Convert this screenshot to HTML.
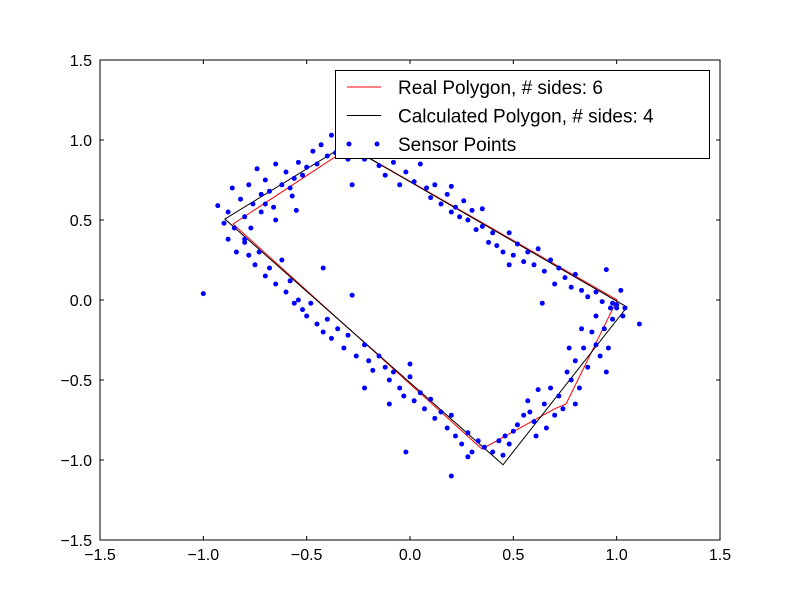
<!DOCTYPE html>
<html><head><meta charset="utf-8"><style>
body{margin:0;background:#fff;}
svg text{font-family:"Liberation Sans","DejaVu Sans",sans-serif;}
</style></head><body>
<svg id="chart" width="800" height="600">
<rect width="800" height="600" fill="#fff"/>
<g id="plot"></g>
</svg>
<script>
const xTicks=[-1.5,-1.0,-0.5,0.0,0.5,1.0,1.5];
const yTicks=[-1.5,-1.0,-0.5,0.0,0.5,1.0,1.5];
const realPolygon=[[-0.856,0.475],[-0.29,0.956],[1.002,0.0],[0.755,-0.65],[0.70,-0.68],[0.348,-0.931]];
const calcPolygon=[[-0.896,0.506],[-0.31,0.97],[1.05,-0.044],[0.45,-1.03]];
const sensorPoints=[[-0.93,0.59],[-0.9,0.48],[-0.88,0.55],[-0.86,0.7],[-0.85,0.45],[-0.82,0.63],[-0.8,0.52],[-0.78,0.72],[-0.76,0.6],[-0.74,0.82],[-0.72,0.66],[-0.7,0.75],[-0.68,0.68],[-0.66,0.58],[-0.65,0.85],[-0.62,0.72],[-0.6,0.8],[-0.58,0.7],[-0.56,0.76],[-0.54,0.86],[-0.52,0.78],[-0.5,0.83],[-0.47,0.93],[-0.45,0.85],[-0.43,0.97],[-0.4,0.9],[-0.38,1.03],[-0.36,0.92],[-0.33,0.98],[-0.3,0.88],[-0.28,0.72],[-0.65,0.5],[-0.7,0.6],[-0.57,0.65],[-0.77,0.45],[-0.8,0.38],[-0.55,0.56],[-0.72,0.55],
[-0.22,0.88],[-0.18,0.92],[-0.15,0.84],[-0.12,0.78],[-0.08,0.86],[-0.05,0.72],[-0.02,0.8],[0.02,0.74],[0.05,0.85],[0.08,0.7],[0.1,0.64],[0.12,0.72],[0.15,0.6],[0.18,0.66],[0.2,0.55],[0.22,0.58],[0.24,0.52],[0.26,0.62],[0.28,0.5],[0.3,0.56],[0.32,0.44],[0.35,0.46],[0.38,0.36],[0.4,0.42],[0.42,0.34],[0.45,0.3],[0.48,0.42],[0.5,0.28],[0.52,0.35],[0.55,0.24],[0.57,0.3],[0.6,0.22],[0.62,0.32],[0.65,0.18],[0.68,0.25],[0.7,0.1],[0.72,0.2],[0.75,0.14],[0.78,0.08],[0.8,0.16],[0.83,0.06],[0.86,0.02],[0.9,0.05],[0.93,-0.01],[0.95,0.19],[0.98,-0.02],[1.0,-0.03],[1.02,0.06],[1.04,-0.05],[0.64,-0.02],[0.48,0.22],[0.2,0.71],[0.35,0.57],
[-0.88,0.38],[-0.84,0.3],[-0.8,0.36],[-0.78,0.28],[-0.75,0.22],[-0.73,0.3],[-0.7,0.15],[-0.68,0.2],[-0.65,0.1],[-0.62,0.25],[-0.6,0.05],[-0.58,0.12],[-0.56,-0.02],[-0.54,0.0],[-0.52,-0.06],[-0.5,-0.1],[-0.48,-0.02],[-0.45,-0.15],[-0.42,0.2],[-0.42,-0.2],[-0.4,-0.12],[-0.38,-0.24],[-0.35,-0.18],[-0.32,-0.3],[-0.3,-0.22],[-0.28,0.03],[-0.26,-0.35],[-0.22,-0.28],[-0.2,-0.38],[-0.18,-0.44],[-0.15,-0.35],[-0.12,-0.42],[-0.1,-0.5],[-0.08,-0.45],[-0.05,-0.55],[-0.03,-0.6],[0.0,-0.48],[0.02,-0.63],[0.05,-0.58],[0.07,-0.68],[0.1,-0.62],[0.12,-0.74],[0.15,-0.7],[0.18,-0.8],[0.2,-0.72],[0.22,-0.85],[0.25,-0.9],[0.28,-0.83],[0.3,-0.95],[0.33,-0.88],[0.36,-0.92],[-0.02,-0.95],[0.2,-1.1],[-0.22,-0.55],[-1.0,0.04],[-0.1,-0.65],[0.0,-0.4],[0.28,-0.98],
[0.4,-0.95],[0.43,-0.88],[0.46,-0.85],[0.5,-0.82],[0.48,-0.9],[0.52,-0.78],[0.55,-0.72],[0.58,-0.7],[0.6,-0.76],[0.62,-0.56],[0.65,-0.65],[0.68,-0.55],[0.7,-0.72],[0.72,-0.6],[0.74,-0.68],[0.76,-0.45],[0.78,-0.5],[0.8,-0.38],[0.82,-0.55],[0.84,-0.3],[0.86,-0.42],[0.88,-0.2],[0.9,-0.28],[0.92,-0.35],[0.94,-0.18],[0.96,-0.3],[0.98,-0.12],[1.0,-0.05],[0.97,-0.05],[0.95,-0.45],[0.8,-0.65],[0.66,-0.8],[0.45,-0.97],[1.11,-0.15],[1.03,-0.1],[0.9,-0.1],[0.83,-0.18],[0.61,-0.85],[0.57,-0.63],[0.77,-0.3]];
const legendLabels=["Real Polygon, # sides: 6","Calculated Polygon, # sides: 4","Sensor Points"];

const L=100,R=720,T=60,B=540;
const xs=v=>L+(v+1.5)/3*(R-L);
const ys=v=>B-(v+1.5)/3*(B-T);
const NS="http://www.w3.org/2000/svg";
const g=document.getElementById('plot');
function mk(tag,attrs,parent){const e=document.createElementNS(NS,tag);for(const k in attrs)e.setAttribute(k,attrs[k]);(parent||g).appendChild(e);return e;}
const fmt=v=>(v<0?'\u2212':'')+Math.abs(v).toFixed(1);

const rp=mk('polygon',{points:realPolygon.map(p=>xs(p[0])+','+ys(p[1])).join(' '),fill:'none',stroke:'#f00','stroke-width':1});


const cp=mk('polygon',{points:calcPolygon.map(p=>xs(p[0])+','+ys(p[1])).join(' '),fill:'none',stroke:'#000','stroke-width':1});


sensorPoints.forEach(p=>{
  const c=mk('circle',{cx:xs(p[0]),cy:ys(p[1]),r:2.5,fill:'#00f'});
  
  
});
const fr=mk('rect',{x:L,y:T,width:R-L,height:B-T,fill:'none',stroke:'#000','stroke-width':1});


xTicks.forEach(v=>{
  const x=xs(v);
  mk('line',{x1:x,y1:B,x2:x,y2:B-4,stroke:'#000'});
  mk('line',{x1:x,y1:T,x2:x,y2:T+4,stroke:'#000'});
  const t=mk('text',{x:x,y:B+20,'text-anchor':'middle','font-size':16});
  t.textContent=fmt(v);
  
  
});
yTicks.forEach(v=>{
  const y=ys(v);
  mk('line',{x1:L,y1:y,x2:L+4,y2:y,stroke:'#000'});
  mk('line',{x1:R,y1:y,x2:R-4,y2:y,stroke:'#000'});
  const t=mk('text',{x:L-8,y:y+6,'text-anchor':'end','font-size':16});
  t.textContent=fmt(v);
  
  
});
const lg=mk('g',{});


mk('rect',{x:335.5,y:70.5,width:374,height:88,fill:'#fff',stroke:'#000'},lg);
const colors=['#f00','#000',null];
legendLabels.forEach((lab,i)=>{
  const y=87+i*28.5;
  if(colors[i]) mk('line',{x1:347,y1:y,x2:381,y2:y,stroke:colors[i]},lg);
  else {mk('circle',{cx:349,cy:y,r:2.5,fill:'#00f'},lg);mk('circle',{cx:377,cy:y,r:2.5,fill:'#00f'},lg);}
  const t=mk('text',{x:398,y:y+7,'font-size':19},lg);
  t.textContent=lab;
  
  
});
</script>
</body></html>
